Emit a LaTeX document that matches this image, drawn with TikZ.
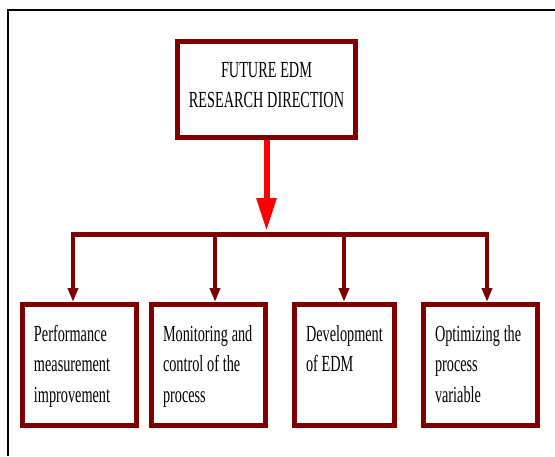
\documentclass[tikz,border=0pt]{standalone}
\usepackage{fontspec}
\setmainfont{Liberation Serif}[FakeStretch=0.62]
\usetikzlibrary{backgrounds,arrows.meta}
\definecolor{bordeaux}{HTML}{800000}
\tikzset{%
    boite/.style={draw=bordeaux, line width=5pt, fill=white,%
        inner xsep=11.5pt, inner ysep=21.2pt, text width=#1,%
        text height=15.3pt, text depth=63.3pt, align=left,%
        font=\fontsize{23}{30.5}\selectfont,%
        execute at begin node={\spaceskip=3.8pt\relax}},%
    titre/.style={draw=bordeaux, line width=5pt, fill=white,%
        inner xsep=5pt, inner ysep=21.7pt, text width=168pt,%
        text height=15pt, text depth=38.1pt, align=center,%
        font=\fontsize{23}{29.5}\selectfont,%
        execute at begin node={\spaceskip=3.8pt\relax}},%
    fleche/.style={draw=red, line width=6pt,%
        -{Triangle[length=33pt,width=19pt]}, shorten >=3.5pt},%
    branche/.style={draw=bordeaux, line width=4.5pt,%
        -{Triangle[length=14pt,width=10pt]}},%
    cadre/.style={draw=black, line width=2pt}%
}
\begin{document}
\begin{tikzpicture}[%
    x=1pt, y=-1pt,%
    show background rectangle,%
    tight background,%
    background rectangle/.style={fill=white}%
    ]
    \useasboundingbox (0,0) rectangle (555,456);

    %
    % Définitions
    %
    \pgfmathsetmacro{\xt}{266.5};%
    \pgfmathsetmacro{\yt}{89.25};%
    \pgfmathsetmacro{\ybus}{234.5};%
    \pgfmathsetmacro{\yb}{365};%

    % Cadre
    \draw[cadre] (8,456) -- (8,10) -- (555,10);

    % Titre
    \node[titre] (dir) at (\xt,\yt) {FUTURE EDM\\RESEARCH DIRECTION};

    % Boites
    \node[boite=91pt] (perf) at (79.5,\yb) {Performance\\measurement\\improvement};
    \node[boite=91pt] (suivi) at (208.5,\yb) {Monitoring and\\control of the\\process};
    \node[boite=77pt] (dev) at (344.5,\yb) {Development\\of EDM};
    \node[boite=91pt] (optim) at (480.5,\yb) {Optimizing the\\process\\variable};

    % Liaisons
    \coordinate (bus) at (\xt,\ybus);
    \draw[fleche] (dir.south) -- (bus);
    \draw[branche] (bus) -| ([xshift=-6.5pt]perf.north);
    \draw[branche] (bus) -| ([xshift=6.5pt]suivi.north);
    \draw[branche] (bus) -| ([xshift=-0.5pt]dev.north);
    \draw[branche] (bus) -| ([xshift=6.5pt]optim.north);

\end{tikzpicture}
\end{document}
